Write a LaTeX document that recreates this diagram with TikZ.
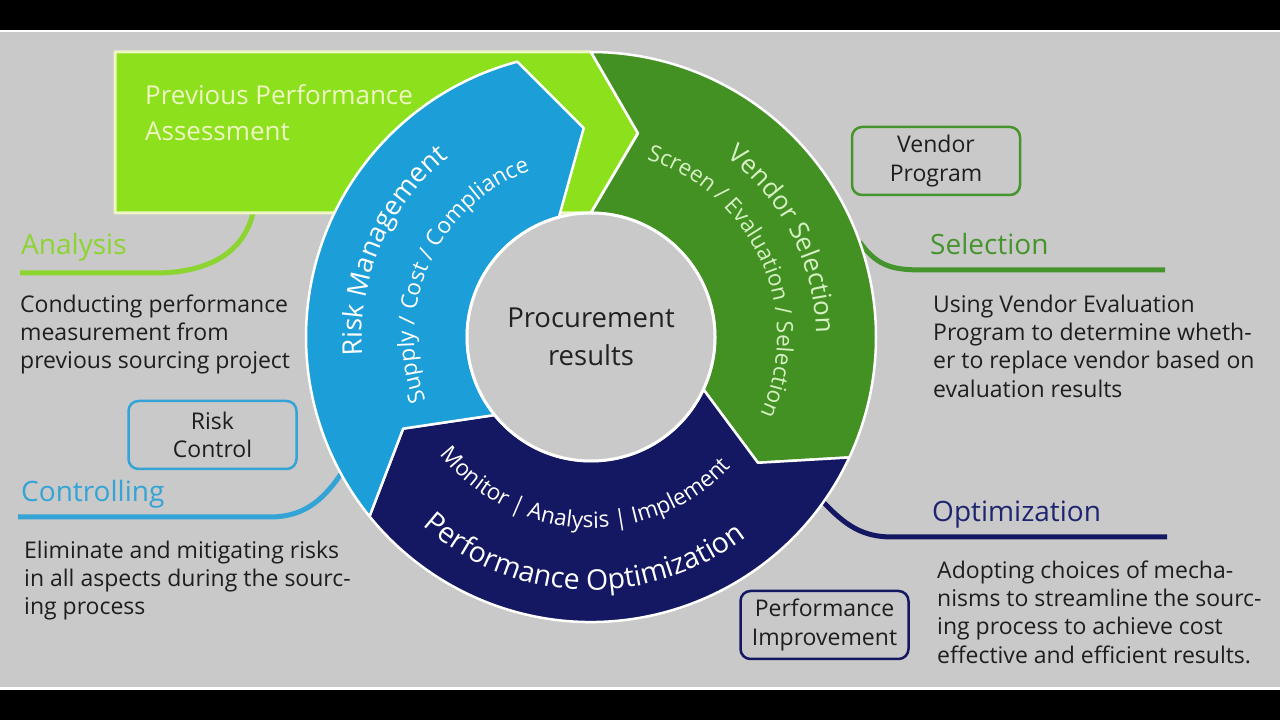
\documentclass[tikz,border=0pt]{standalone}
\usepackage{fontspec}
\setmainfont{Open Sans}
\usetikzlibrary{decorations.text}

\definecolor{bgGray}{RGB}{201,201,201}
\definecolor{limeArrow}{RGB}{141,224,28}
\definecolor{skyRisk}{RGB}{28,158,216}
\definecolor{leafVendor}{RGB}{67,145,34}
\definecolor{navyPerf}{RGB}{20,23,98}
\definecolor{limeText}{RGB}{140,212,48}
\definecolor{skyText}{RGB}{52,164,214}
\definecolor{leafText}{RGB}{70,148,46}
\definecolor{navyText}{RGB}{30,36,112}
\definecolor{bodyText}{RGB}{30,30,30}
\definecolor{paleLime}{RGB}{238,246,196}
\definecolor{paleLeaf}{RGB}{214,240,196}

\newcommand{\headfont}{\fontsize{28}{32}\selectfont}
\newcommand{\bodyfont}{\fontsize{23}{28.3}\selectfont}
\newcommand{\ringbig}{\fontsize{27}{30}\selectfont}
\newcommand{\ringsmall}{\fontsize{22.5}{24}\selectfont}

\tikzset{
  segment/.style={draw=white, line width=2.5pt, line join=round},
  heading/.style={anchor=base west, inner sep=0pt, font=\headfont},
  blurb/.style={anchor=north west, inner sep=0pt, align=left, font=\bodyfont, text=bodyText},
  tagbox/.style={draw, rounded corners=10pt, line width=2.5pt, minimum width=168pt, minimum height=68pt, inner sep=0pt, align=center, font=\bodyfont, text=bodyText},
  leader/.style={line width=5pt},
  ringtext/.style={decorate, decoration={text along path, text align=center, text color=#1}}
}

\begin{document}
\begin{tikzpicture}[x=1pt, y=1pt]
  \fill[black] (0,0) rectangle (1280,720);
  \fill[white] (0,30) rectangle (1280,690);
  \fill[bgGray] (0,32.5) rectangle (1280,687.5);

  \coordinate (anaFoot) at (253,507);
  \coordinate (anaEnd) at (20,447);
  \begin{scope}[shift={(591,383)}]
    \coordinate (ctlFoot) at (208.7:285);
    \coordinate (selFoot) at (19.5:285);
    \coordinate (optFoot) at (-35.4:285);
  \end{scope}
  \coordinate (ctlEnd) at (18,203);
  \coordinate (selEnd) at (1165,450);
  \coordinate (optEnd) at (1167,183);

  \draw[leader, limeText] (anaFoot) .. controls (243,465) and (205,447) .. (155,447) -- (anaEnd);
  \draw[leader, skyText] (ctlFoot) .. controls (322,218) and (302,203) .. (270,203) -- (ctlEnd);
  \draw[leader, leafText] (selFoot) .. controls (878,452) and (895,450) .. (925,450) -- (selEnd);
  \draw[leader, navyPerf] (optFoot) .. controls (845,195) and (862,183) .. (892,183) -- (optEnd);

  \draw[fill=limeArrow, draw=paleLime, line width=3pt, line join=round] (115,668) -- (591,668) -- (638,587) -- (591,507) -- (115,507) -- cycle;
  \node[anchor=north west, inner sep=0pt, align=left, text=paleLime, font=\fontsize{26}{36}\selectfont] (prevTitle) at (145,636) {Previous Performance\\Assessment};

  \begin{scope}[shift={(591,383)}]
    \draw[segment, fill=leafVendor] (90:285) arc[start angle=90, end angle=-25, radius=285] -- (-37:209) -- (-25:124) arc[start angle=-25, end angle=90, radius=124] -- (77:209) -- cycle;
    \draw[segment, fill=navyPerf] (-25:285) arc[start angle=-25, end angle=-141, radius=285] -- (-154:209) -- (-141:124) arc[start angle=-141, end angle=-25, radius=124] -- (-37:209) -- cycle;
    \draw[segment, fill=skyRisk] (219:285) arc[start angle=219, end angle=105, radius=285] -- (92:209) -- (105:124) arc[start angle=105, end angle=219, radius=124] -- (206:209) -- cycle;
    \node[circle, minimum size=248pt, inner sep=0pt, fill=bgGray, draw=white, line width=3pt, align=center, text={rgb,255:red,34;green,34;blue,34}, font=\fontsize{27.5}{38}\selectfont] (core) at (0,0) {Procurement\\results};

    \path[ringtext=white, decoration={text={|\ringbig|Risk Management}}] (215:229) arc[start angle=215, end angle=98, radius=229];
    \path[ringtext=white, decoration={text={|\ringsmall|Supply / Cost / Compliance}}] (222:177) arc[start angle=222, end angle=89, radius=177];
    \path[ringtext=paleLeaf, decoration={text={|\fontsize{26}{30}\selectfont|Vendor Selection}}] (85:225) arc[start angle=85, end angle=-31, radius=225];
    \path[ringtext=paleLeaf, decoration={text={|\ringsmall|Screen / Evaluation / Selection}}] (90:186) arc[start angle=90, end angle=-42, radius=186];
    \path[ringtext=white, decoration={text format delimiters={[}{]}, text={[\ringsmall]Monitor | Analysis | Implement}}] (-160:191) arc[start angle=-160, end angle=-25, radius=191];
    \path[ringtext=white, decoration={text={|\fontsize{28.5}{30}\selectfont|Performance Optimization}}] (-157:253) arc[start angle=-157, end angle=-27, radius=253];
  \end{scope}

  \node[heading, text=limeText] (anaHead) at (21,465) {Analysis};
  \node[heading, text=skyText] (ctlHead) at (21,218) {Controlling};
  \node[heading, text=leafText] (selHead) at (930,465) {Selection};
  \node[heading, text=navyText] (optHead) at (932,198) {Optimization};

  \node[blurb] (anaText) at (20,425.5) {Conducting performance\\measurement from\\previous sourcing project};
  \node[blurb] (ctlText) at (24,179.5) {Eliminate and mitigating risks\\in all aspects during the sourc-\\ing process};
  \node[blurb] (selText) at (933,425.5) {Using Vendor Evaluation\\Program to determine wheth-\\er to replace vendor based on\\evaluation results};
  \node[blurb] (optText) at (937,159.5) {Adopting choices of mecha-\\nisms to streamline the sourc-\\ing process to achieve cost\\effective and efficient results.};

  \node[tagbox, draw=skyText] (riskBox) at (212.5,285) {Risk\\Control};
  \node[tagbox, draw=leafText] (vendorBox) at (936,559) {Vendor\\Program};
  \node[tagbox, draw=navyPerf] (perfBox) at (824.5,95) {Performance\\Improvement};
\end{tikzpicture}
\end{document}
